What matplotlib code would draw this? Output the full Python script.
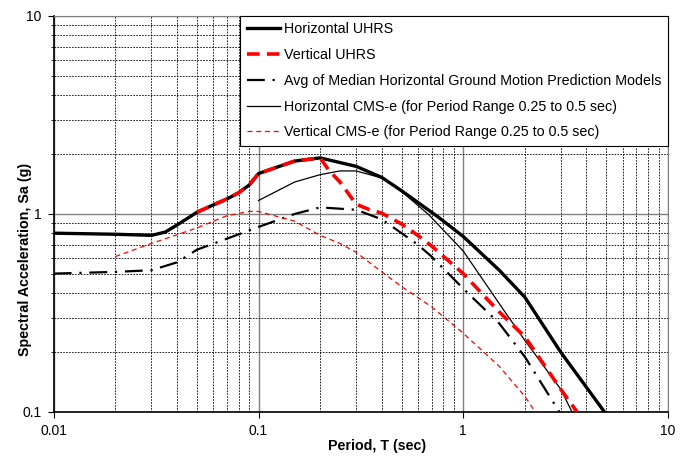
import matplotlib
matplotlib.use("Agg")
import matplotlib.pyplot as plt
from matplotlib.ticker import LogLocator, NullFormatter, FixedFormatter, FixedLocator

plt.rcParams['font.family'] = ['Liberation Sans', 'DejaVu Sans']

# Horizontal UHRS
t_h_uhrs = [0.01, 0.02, 0.03, 0.035, 0.04, 0.05, 0.06, 0.07, 0.08, 0.09, 0.1,
            0.15, 0.2, 0.3, 0.4, 0.5, 0.75, 1.0, 1.5, 2.0, 3.0, 4.9]
sa_h_uhrs = [0.80, 0.79, 0.78, 0.81, 0.88, 1.02, 1.11, 1.19, 1.28, 1.40, 1.60,
             1.85, 1.92, 1.74, 1.53, 1.31, 0.97, 0.77, 0.52, 0.38, 0.20, 0.10]

# Vertical UHRS
t_v_uhrs = [0.05, 0.06, 0.07, 0.08, 0.09, 0.1, 0.15, 0.2, 0.22, 0.25, 0.3,
            0.35, 0.4, 0.5, 0.6, 0.7, 1.0, 1.5, 2.0, 3.0, 3.6]
sa_v_uhrs = [1.02, 1.11, 1.19, 1.28, 1.40, 1.60, 1.85, 1.92, 1.67, 1.45, 1.12,
             1.05, 1.01, 0.89, 0.78, 0.69, 0.50, 0.32, 0.24, 0.13, 0.10]

# Avg of median horizontal GMPMs
t_avg = [0.01, 0.02, 0.03, 0.04, 0.05, 0.07, 0.1, 0.15, 0.2, 0.3, 0.4, 0.5,
         0.6, 0.7, 1.0, 1.5, 2.0, 2.95]
sa_avg = [0.50, 0.51, 0.52, 0.57, 0.66, 0.75, 0.86, 1.00, 1.08, 1.05, 0.94, 0.80,
          0.70, 0.61, 0.42, 0.28, 0.19, 0.10]

# Horizontal CMS-e
t_h_cms = [0.1, 0.15, 0.2, 0.25, 0.3, 0.4, 0.5, 0.68, 1.0, 1.67, 2.0, 3.0, 3.4]
sa_h_cms = [1.17, 1.45, 1.58, 1.65, 1.65, 1.52, 1.30, 0.99, 0.65, 0.30, 0.23, 0.13, 0.10]

# Vertical CMS-e
t_v_cms = [0.02, 0.03, 0.05, 0.07, 0.09, 0.1, 0.15, 0.2, 0.25, 0.3, 0.4, 0.5,
           0.7, 0.81, 1.0, 1.5, 2.0, 2.25]
sa_v_cms = [0.61, 0.71, 0.85, 0.98, 1.03, 1.03, 0.92, 0.78, 0.71, 0.64, 0.51, 0.43,
            0.34, 0.30, 0.25, 0.17, 0.12, 0.10]

fig = plt.figure(figsize=(6.9, 4.57), dpi=100)
ax = fig.add_axes([0.078, 0.0985, 0.890, 0.8665])

ax.plot(t_h_uhrs, sa_h_uhrs, color='black', lw=2.4, label='Horizontal UHRS', zorder=5)
ax.plot(t_v_uhrs, sa_v_uhrs, color='#ff0000', lw=2.6, dashes=(3.5, 2),
        label='Vertical UHRS', zorder=6)
ax.plot(t_avg, sa_avg, color='black', lw=1.6, dashes=(8, 3.5, 1, 3.5),
        label='Avg of Median Horizontal Ground Motion Prediction Models', zorder=4)
ax.plot(t_h_cms, sa_h_cms, color='black', lw=0.9,
        label='Horizontal CMS-e (for Period Range 0.25 to 0.5 sec)', zorder=4)
ax.plot(t_v_cms, sa_v_cms, color='#ff0000', lw=0.9, dashes=(4, 3),
        label='Vertical CMS-e (for Period Range 0.25 to 0.5 sec)', zorder=4)

ax.set_xscale('log')
ax.set_yscale('log')
ax.set_xlim(0.01, 10)
ax.set_ylim(0.1, 10)

ax.xaxis.set_major_locator(FixedLocator([0.01, 0.1, 1, 10]))
ax.xaxis.set_major_formatter(FixedFormatter(['0.01', '0.1', '1', '10']))
ax.yaxis.set_major_locator(FixedLocator([0.1, 1, 10]))
ax.yaxis.set_major_formatter(FixedFormatter(['0.1', '1', '10']))
ax.xaxis.set_minor_locator(LogLocator(base=10, subs=range(2, 10), numticks=20))
ax.yaxis.set_minor_locator(LogLocator(base=10, subs=range(2, 10), numticks=20))
ax.xaxis.set_minor_formatter(NullFormatter())
ax.yaxis.set_minor_formatter(NullFormatter())

ax.grid(True, which='major', color='#808080', lw=1.0, ls='-')
ax.grid(True, which='minor', color='black', lw=0.6, ls=(0, (2, 1.5)))
ax.set_axisbelow(True)

ax.tick_params(which='major', direction='out', length=4, width=0.8, labelsize=10, pad=5)
ax.tick_params(which='minor', direction='out', length=2.5, width=0.6)
ax.tick_params(axis='x', which='minor', length=0)

for side in ['top', 'right']:
    ax.spines[side].set_color('#808080')
for side in ['left', 'bottom']:
    ax.spines[side].set_color('black')
    ax.spines[side].set_linewidth(1.2)

ax.set_xlabel('Period, T (sec)', fontsize=10.3, fontweight='bold')
ax.set_ylabel('Spectral Acceleration, Sa (g)', fontsize=10.3, fontweight='bold')
ax.xaxis.set_label_coords(0.527, -0.068)
ax.yaxis.set_label_coords(-0.036, 0.386)

leg = ax.legend(loc='upper right', bbox_to_anchor=(1.0, 1.0), fontsize=10.3,
                frameon=True, fancybox=False, edgecolor='black', framealpha=1,
                handlelength=2.3, handletextpad=0.3, labelspacing=0.82,
                borderpad=0.45, borderaxespad=0)
leg.get_frame().set_linewidth(0.8)
leg.set_zorder(10)

fig.savefig('out.png', dpi=100)
